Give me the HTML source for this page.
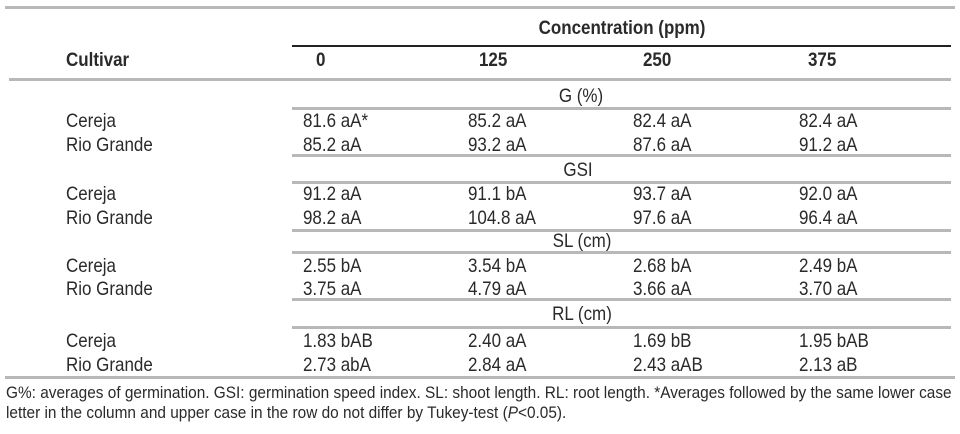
<!DOCTYPE html>
<html><head><style>
body{margin:0;width:960px;height:434px;background:#fff;position:relative;overflow:hidden;font-family:"Liberation Sans",sans-serif;color:#2a2a2a}
.t{position:absolute;font-size:19.5px;line-height:20px;white-space:nowrap;transform:scaleX(0.87);transform-origin:0 50%}
.b{font-weight:bold}
.l{position:absolute;height:3px;background:#b8b8b8}
.c{transform:translateX(-50%) scaleX(0.87);transform-origin:50% 50%}
.f{font-size:17px;transform:scaleX(0.905)}
</style></head><body>
<div class="l" style="left:5px;top:6px;width:950px"></div>
<div class="l" style="left:292px;top:45px;width:659px;height:2px;background:#222"></div>
<div class="l" style="left:9px;top:78px;width:942px"></div>
<div class="l" style="left:292px;top:107px;width:659px"></div>
<div class="l" style="left:292px;top:154px;width:659px"></div>
<div class="l" style="left:292px;top:181px;width:659px"></div>
<div class="l" style="left:292px;top:229px;width:659px"></div>
<div class="l" style="left:292px;top:251px;width:659px"></div>
<div class="l" style="left:292px;top:298px;width:659px"></div>
<div class="l" style="left:292px;top:326px;width:659px"></div>
<div class="l" style="left:5px;top:376px;width:950px"></div>

<div class="t b c" style="left:622px;top:18px">Concentration (ppm)</div>
<div class="t b" style="left:66px;top:50px">Cultivar</div>
<div class="t b" style="left:316px;top:50px">0</div>
<div class="t b" style="left:479px;top:50px">125</div>
<div class="t b" style="left:643px;top:50px">250</div>
<div class="t b" style="left:808px;top:50px">375</div>

<div class="t c" style="left:581px;top:86px">G (%)</div>
<div class="t c" style="left:578px;top:160px">GSI</div>
<div class="t c" style="left:582px;top:231px">SL (cm)</div>
<div class="t c" style="left:582px;top:304px">RL (cm)</div>

<div class="t" style="left:66px;top:111px">Cereja</div><div class="t" style="left:66px;top:135px">Rio Grande</div>
<div class="t" style="left:303px;top:111px">81.6 aA*</div><div class="t" style="left:468px;top:111px">85.2 aA</div><div class="t" style="left:633px;top:111px">82.4 aA</div><div class="t" style="left:799px;top:111px">82.4 aA</div>
<div class="t" style="left:303px;top:135px">85.2 aA</div><div class="t" style="left:468px;top:135px">93.2 aA</div><div class="t" style="left:633px;top:135px">87.6 aA</div><div class="t" style="left:799px;top:135px">91.2 aA</div>

<div class="t" style="left:66px;top:184px">Cereja</div><div class="t" style="left:66px;top:208px">Rio Grande</div>
<div class="t" style="left:303px;top:184px">91.2 aA</div><div class="t" style="left:468px;top:184px">91.1 bA</div><div class="t" style="left:633px;top:184px">93.7 aA</div><div class="t" style="left:799px;top:184px">92.0 aA</div>
<div class="t" style="left:303px;top:208px">98.2 aA</div><div class="t" style="left:468px;top:208px">104.8 aA</div><div class="t" style="left:633px;top:208px">97.6 aA</div><div class="t" style="left:799px;top:208px">96.4 aA</div>

<div class="t" style="left:66px;top:256px">Cereja</div><div class="t" style="left:66px;top:279px">Rio Grande</div>
<div class="t" style="left:303px;top:256px">2.55 bA</div><div class="t" style="left:468px;top:256px">3.54 bA</div><div class="t" style="left:633px;top:256px">2.68 bA</div><div class="t" style="left:799px;top:256px">2.49 bA</div>
<div class="t" style="left:303px;top:279px">3.75 aA</div><div class="t" style="left:468px;top:279px">4.79 aA</div><div class="t" style="left:633px;top:279px">3.66 aA</div><div class="t" style="left:799px;top:279px">3.70 aA</div>

<div class="t" style="left:66px;top:331px">Cereja</div><div class="t" style="left:66px;top:355px">Rio Grande</div>
<div class="t" style="left:303px;top:331px">1.83 bAB</div><div class="t" style="left:468px;top:331px">2.40 aA</div><div class="t" style="left:633px;top:331px">1.69 bB</div><div class="t" style="left:799px;top:331px">1.95 bAB</div>
<div class="t" style="left:303px;top:355px">2.73 abA</div><div class="t" style="left:468px;top:355px">2.84 aA</div><div class="t" style="left:633px;top:355px">2.43 aAB</div><div class="t" style="left:799px;top:355px">2.13 aB</div>

<div class="t f" style="left:6px;top:383px">G%: averages of germination. GSI: germination speed index. SL: shoot length. RL: root length. *Averages followed by the same lower case</div>
<div class="t f" style="left:6px;top:403px">letter in the column and upper case in the row do not differ by Tukey-test (<i>P</i>&lt;0.05).</div>
</body></html>
